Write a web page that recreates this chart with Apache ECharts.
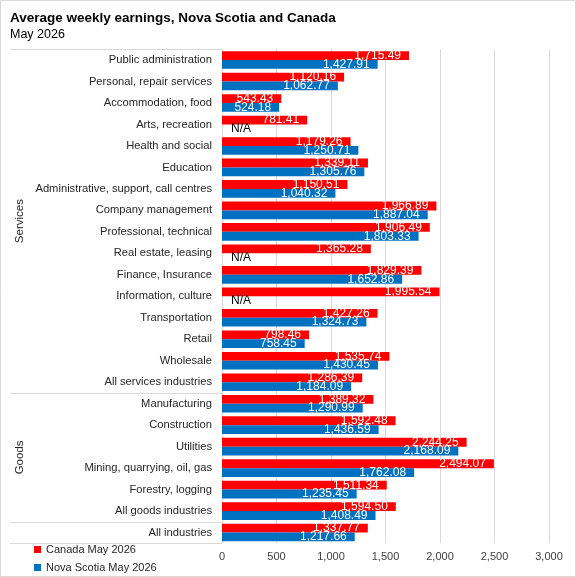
<!DOCTYPE html>
<html><head><meta charset="utf-8">
<script src="https://cdn.jsdelivr.net/npm/echarts@6/dist/echarts.min.js"></script>
<style>html,body{margin:0;padding:0;background:#fff}#c{width:576px;height:577px}</style>
</head><body><div id="c"></div>
<script>
const categories = ["Public administration","Personal, repair services","Accommodation, food","Arts, recreation","Health and social","Education","Administrative, support, call centres","Company management","Professional, technical","Real estate, leasing","Finance, Insurance","Information, culture","Transportation","Retail","Wholesale","All services industries","Manufacturing","Construction","Utilities","Mining, quarrying, oil, gas","Forestry, logging","All goods industries","All industries"];
const canada = [1715.49,1120.16,543.43,781.41,1179.26,1339.11,1150.51,1966.89,1906.49,1365.28,1829.39,1995.54,1427.26,798.46,1535.74,1286.39,1389.32,1592.48,2244.25,2494.07,1511.34,1594.50,1337.77];
const novaScotia = [1427.91,1062.77,524.18,null,1250.71,1305.76,1040.32,1887.04,1803.33,null,1652.86,null,1324.73,758.45,1430.45,1184.09,1290.99,1436.59,2168.09,1762.08,1235.45,1408.49,1217.66];
const groups = [{name:"Services", from:0, to:15},{name:"Goods", from:16, to:21}];
const xTicks = {min:0, max:3000, interval:500};
const seriesNames = ["Canada May 2026","Nova Scotia May 2026"];

const FONT = "Liberation Sans";
const fmt = v => v.toLocaleString('en-US',{minimumFractionDigits:2, maximumFractionDigits:2});
const valLabel = {show:true, position:'insideRight', distance:8, color:'#fff', fontSize:12, fontFamily:FONT, formatter:p=>fmt(p.value)};
function mkData(arr){
  return arr.map(v => v === null
    ? {value:0, label:{show:true, position:'right', distance:9, color:'#000', formatter:'N/A'}}
    : v);
}
const chart = echarts.init(document.getElementById('c'));
chart.setOption({
  animation:false,
  textStyle:{fontFamily:FONT},
  title:{text:"Average weekly earnings, Nova Scotia and Canada", subtext:"May 2026", left:5, top:6, itemGap:3,
    textStyle:{fontSize:13.5, fontWeight:'bold', color:'#000', fontFamily:FONT},
    subtextStyle:{fontSize:12.5, color:'#000', fontFamily:FONT}},
  legend:{orient:'vertical', left:34, bottom:4, padding:0, itemWidth:7, itemHeight:7, itemGap:7, icon:'rect',
    textStyle:{fontSize:11, color:'#262626', fontFamily:FONT}, data:seriesNames},
  grid:{left:222, right:27, top:49.3, bottom:33.7, containLabel:false},
  xAxis:{type:'value', min:xTicks.min, max:xTicks.max, interval:xTicks.interval,
    axisLine:{show:false}, axisTick:{show:false},
    splitLine:{lineStyle:{color:'#d9d9d9'}},
    axisLabel:{fontSize:11, color:'#404040', margin:8, formatter:v=>v.toLocaleString('en-US')}},
  yAxis:{type:'category', data:categories, inverse:true,
    axisLine:{show:true, lineStyle:{color:'#d9d9d9'}}, axisTick:{show:false},
    axisLabel:{fontSize:11.2, color:'#262626', margin:10}},
  series:[
    {name:seriesNames[0], type:'bar', data:mkData(canada), itemStyle:{color:'#ff0000'}, barGap:'0%', barCategoryGap:'18%', label:valLabel},
    {name:seriesNames[1], type:'bar', data:mkData(novaScotia), itemStyle:{color:'#0070c0'}, barGap:'0%', barCategoryGap:'18%', label:valLabel}
  ]
});
// group separators and group labels on the left (multi-level category axis)
const yc = i => chart.convertToPixel({yAxisIndex:0}, i);
const band = yc(1) - yc(0);
const gridLeft = 222;
const lineStyle = {stroke:'#d9d9d9', lineWidth:1};
const bounds = [yc(0)-band/2];
groups.forEach(g => bounds.push(yc(g.to)+band/2));
bounds.push(yc(categories.length-1)+band/2);
const els = bounds.map(y => ({type:'line', shape:{x1:10, y1:Math.round(y)+0.5, x2:gridLeft, y2:Math.round(y)+0.5}, style:lineStyle}));
groups.forEach(g => {
  const cy = (yc(g.from)+yc(g.to))/2;
  els.push({type:'text', x:20, y:cy, rotation:Math.PI/2,
    style:{text:g.name, fontSize:11.5, fill:'#262626', fontFamily:FONT, align:'center', verticalAlign:'middle'}});
});
els.push({type:'rect', shape:{x:0.5, y:0.5, width:575, height:576}, style:{fill:null, stroke:'#d9d9d9', lineWidth:1}});
chart.setOption({graphic:els});
</script></body></html>
